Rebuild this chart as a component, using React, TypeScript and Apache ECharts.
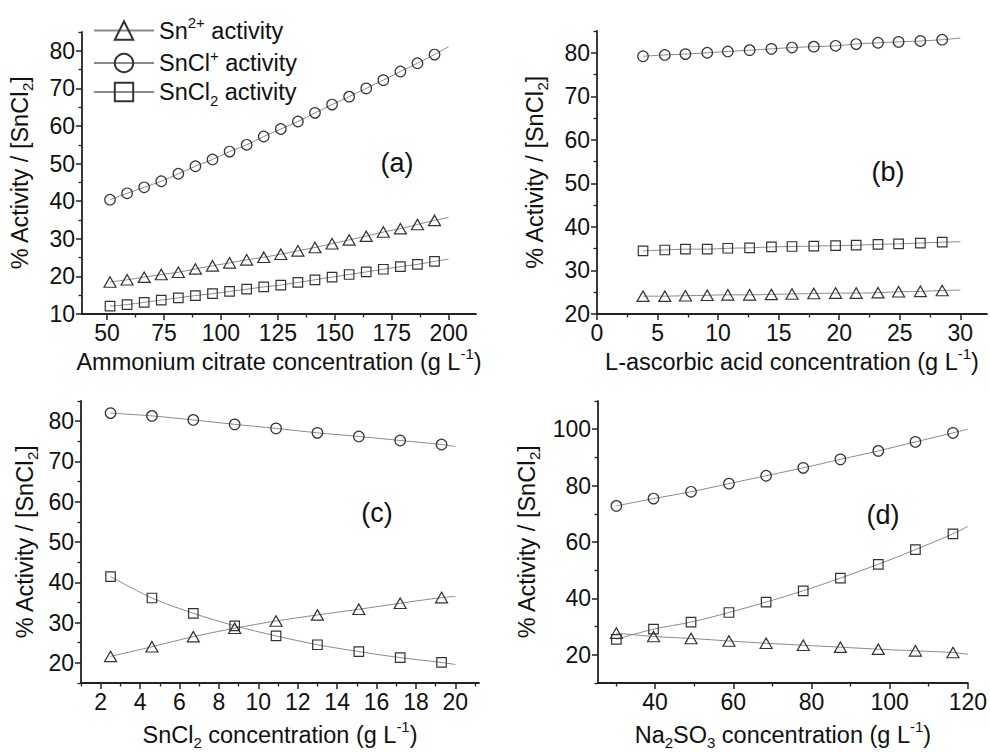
import { useEffect, useRef } from 'react';
import * as echarts from 'echarts';

const FONT = '"Liberation Sans", Arial, sans-serif';
const TXT = '#111';
const AX = '#222';

// ---------- Panel (a): ammonium citrate ----------
const A_X = [51.3, 58.8, 66.3, 73.8, 81.3, 88.8, 96.3, 103.8, 111.3, 118.8, 126.3, 133.8, 141.3, 148.8, 156.3, 163.8, 171.3, 178.8, 186.3, 193.8];
const A_SN2 = [18.5, 19.1, 19.8, 20.5, 21.1, 22.0, 22.8, 23.6, 24.4, 25.1, 25.9, 26.8, 27.7, 28.7, 29.7, 30.7, 31.8, 32.7, 33.8, 34.9];
const A_SNCL = [40.4, 42.1, 43.7, 45.3, 47.3, 49.3, 51.1, 53.2, 55.0, 57.2, 59.2, 61.2, 63.5, 65.7, 67.8, 70.0, 72.2, 74.5, 76.7, 79.0];
const A_SNCL2 = [12.1, 12.5, 13.1, 13.7, 14.3, 14.9, 15.4, 16.0, 16.6, 17.2, 17.7, 18.4, 19.1, 19.8, 20.5, 21.2, 21.9, 22.6, 23.2, 24.0];
const A_END = { x: 200, sn2: 35.7, sncl: 81.1, sncl2: 24.6 };
const A_XTICKS = [50, 75, 100, 125, 150, 175, 200];
const A_XMINOR = [62.5, 87.5, 112.5, 137.5, 162.5, 187.5];
const A_YTICKS = [10, 20, 30, 40, 50, 60, 70, 80];
const A_YMINOR = [15, 25, 35, 45, 55, 65, 75, 85];

// ---------- Panel (b): L-ascorbic acid ----------
const B_X = [3.8, 5.6, 7.3, 9.1, 10.8, 12.6, 14.4, 16.1, 17.9, 19.7, 21.4, 23.2, 24.9, 26.7, 28.5];
const B_SN2 = [24.1, 24.1, 24.2, 24.3, 24.4, 24.4, 24.5, 24.6, 24.7, 24.8, 24.8, 24.9, 25.1, 25.2, 25.4];
const B_SNCL = [79.2, 79.5, 79.7, 80.0, 80.3, 80.6, 80.9, 81.2, 81.4, 81.6, 82.0, 82.3, 82.5, 82.7, 83.0];
const B_SNCL2 = [34.5, 34.7, 34.9, 34.9, 35.1, 35.2, 35.4, 35.5, 35.6, 35.7, 35.8, 36.0, 36.1, 36.3, 36.5];
const B_END = { x: 30, sn2: 25.5, sncl: 83.4, sncl2: 36.6 };
const B_XTICKS = [0, 5, 10, 15, 20, 25, 30];
const B_XMINOR = [2.5, 7.5, 12.5, 17.5, 22.5, 27.5];
const B_YTICKS = [20, 30, 40, 50, 60, 70, 80];
const B_YMINOR = [25, 35, 45, 55, 65, 75, 85];

// ---------- Panel (c): SnCl2 ----------
const C_X = [2.5, 4.6, 6.7, 8.8, 10.9, 13.0, 15.1, 17.2, 19.3];
const C_SN2 = [21.6, 24.0, 26.5, 28.6, 30.4, 31.9, 33.3, 34.8, 36.2];
const C_SNCL = [82.0, 81.3, 80.3, 79.2, 78.2, 77.1, 76.2, 75.2, 74.2];
const C_SNCL2 = [41.4, 36.1, 32.3, 29.2, 26.7, 24.5, 22.8, 21.3, 20.1];
const C_END = { x: 20, sn2: 36.5, sncl: 73.7, sncl2: 19.6 };
const C_XTICKS = [2, 4, 6, 8, 10, 12, 14, 16, 18, 20];
const C_XMINOR = [1, 3, 5, 7, 9, 11, 13, 15, 17, 19, 21];
const C_YTICKS = [20, 30, 40, 50, 60, 70, 80];
const C_YMINOR = [15, 25, 35, 45, 55, 65, 75, 85];

// ---------- Panel (d): Na2SO3 ----------
const D_X = [30.1, 39.6, 49.2, 58.9, 68.4, 77.9, 87.4, 97.1, 106.6, 116.2];
const D_SN2 = [27.7, 26.5, 25.8, 24.9, 24.1, 23.4, 22.7, 22.0, 21.4, 20.8];
const D_SNCL = [72.8, 75.4, 77.8, 80.7, 83.5, 86.3, 89.3, 92.3, 95.5, 98.7];
const D_SNCL2 = [25.5, 29.1, 31.6, 35.0, 38.7, 42.7, 47.2, 52.1, 57.3, 62.9];
const D_END = { x: 120, sn2: 20.2, sncl: 100.0, sncl2: 65.5 };
const D_XTICKS = [40, 60, 80, 100, 120];
const D_XMINOR = [30, 50, 70, 90, 110];
const D_YTICKS = [20, 40, 60, 80, 100];
const D_YMINOR = [10, 30, 50, 70, 90, 110];

const NAMES = ['Sn2+ activity', 'SnCl+ activity', 'SnCl2 activity'];

const rich = {
  m: { fontSize: 23.5, fontFamily: FONT, color: TXT, lineHeight: 31 },
  sub: { fontSize: 15, fontFamily: FONT, color: TXT, lineHeight: 15, verticalAlign: 'bottom' },
  sup: { fontSize: 15, fontFamily: FONT, color: TXT, lineHeight: 15, verticalAlign: 'top' },
};

const Y_NAME = '{m|% Activity / [SnCl}{sub|2}{m|]}';

function series(gi: number, idx: number, xs: number[], ys: number[], endX: number, endY: number) {
  const symbol = ['triangle', 'circle', 'rect'][idx];
  const size = [[12, 10.5], 10.5, 9.5][idx];
  const data: any[] = xs.map((x, i) => [x, ys[i]]);
  data.push({ value: [endX, endY], symbol: 'none' });
  return {
    type: 'line',
    name: NAMES[idx],
    xAxisIndex: gi * 2,
    yAxisIndex: gi * 2,
    data,
    symbol,
    symbolSize: size,
    smooth: 0.3,
    lineStyle: { color: '#8a8a8a', width: 1 },
    itemStyle: { color: 'rgba(255,255,255,0)', borderColor: '#333', borderWidth: 1.2 },
    emphasis: { disabled: true },
    z: 3,
  };
}

function axes(gi: number, min: number, max: number, ticks: number[], minor: number[], name: string, nameGap: number, isX: boolean) {
  const main: any = {
    type: 'value',
    gridIndex: gi,
    min,
    max,
    position: isX ? 'bottom' : 'left',
    axisLine: { show: true, onZero: false, lineStyle: { color: AX, width: 1.8 } },
    axisTick: { show: true, length: 6, customValues: ticks, lineStyle: { color: AX, width: 1.5 } },
    axisLabel: { customValues: ticks, fontSize: 23, fontFamily: FONT, color: TXT, margin: 7 },
    splitLine: { show: false },
    name,
    nameLocation: 'middle',
    nameGap,
    nameTextStyle: { rich },
  };
  const mn: any = {
    type: 'value',
    gridIndex: gi,
    min,
    max,
    position: isX ? 'bottom' : 'left',
    axisLine: { show: false, onZero: false },
    axisTick: { show: true, length: 3.5, customValues: minor, lineStyle: { color: AX, width: 1.3 } },
    axisLabel: { show: false },
    splitLine: { show: false },
  };
  return [main, mn];
}

function panelLabel(text: string, x: number, y: number) {
  return {
    type: 'text',
    x,
    y,
    style: { text, fontSize: 27, fontFamily: FONT, fill: TXT, textAlign: 'center', textVerticalAlign: 'middle' },
  };
}

export default function App() {
  const ref = useRef<HTMLDivElement>(null);
  useEffect(() => {
    if (!ref.current) return;
    const chart = echarts.init(ref.current, undefined, { renderer: 'svg' });
    const grids = [
      { left: 82, top: 32, width: 394, height: 282 },
      { left: 597, top: 31, width: 390, height: 283 },
      { left: 81, top: 401, width: 398, height: 282 },
      { left: 598, top: 401, width: 374, height: 282 },
    ];
    const xAxis = [
      ...axes(0, 39, 212, A_XTICKS, A_XMINOR, '{m|Ammonium citrate concentration (g L}{sup|-1}{m|)}', 32, true),
      ...axes(1, 0, 32.2, B_XTICKS, B_XMINOR, '{m|L-ascorbic acid concentration (g L}{sup|-1}{m|)}', 32, true),
      ...axes(2, 1, 21.2, C_XTICKS, C_XMINOR, '{m|SnCl}{sub|2}{m| concentration (g L}{sup|-1}{m|)}', 36, true),
      ...axes(3, 25.4, 120, D_XTICKS, D_XMINOR, '{m|Na}{sub|2}{m|SO}{sub|3}{m| concentration (g L}{sup|-1}{m|)}', 36, true),
    ];
    const yAxis = [
      ...axes(0, 10, 85, A_YTICKS, A_YMINOR, Y_NAME, 47, false),
      ...axes(1, 20, 85, B_YTICKS, B_YMINOR, Y_NAME, 47, false),
      ...axes(2, 15, 85, C_YTICKS, C_YMINOR, Y_NAME, 41, false),
      ...axes(3, 10, 110, D_YTICKS, D_YMINOR, Y_NAME, 56, false),
    ];
    const legendLabels: Record<string, string> = {
      'Sn2+ activity': '{m|Sn}{sup|2+}{m| activity}',
      'SnCl+ activity': '{m|SnCl}{sup|+}{m| activity}',
      'SnCl2 activity': '{m|SnCl}{sub|2}{m| activity}',
    };
    chart.setOption({
      animation: false,
      backgroundColor: '#fff',
      grid: grids,
      xAxis,
      yAxis,
      legend: {
        data: NAMES,
        orient: 'vertical',
        left: 93,
        top: 15,
        padding: 0,
        itemWidth: 60,
        itemHeight: 23,
        itemGap: 5,
        itemTextGap: 7,
        selectedMode: false,
        formatter: (n: string) => legendLabels[n],
        textStyle: { rich },
      },
      series: [
        series(0, 0, A_X, A_SN2, A_END.x, A_END.sn2),
        series(0, 1, A_X, A_SNCL, A_END.x, A_END.sncl),
        series(0, 2, A_X, A_SNCL2, A_END.x, A_END.sncl2),
        series(1, 0, B_X, B_SN2, B_END.x, B_END.sn2),
        series(1, 1, B_X, B_SNCL, B_END.x, B_END.sncl),
        series(1, 2, B_X, B_SNCL2, B_END.x, B_END.sncl2),
        series(2, 0, C_X, C_SN2, C_END.x, C_END.sn2),
        series(2, 1, C_X, C_SNCL, C_END.x, C_END.sncl),
        series(2, 2, C_X, C_SNCL2, C_END.x, C_END.sncl2),
        series(3, 0, D_X, D_SN2, D_END.x, D_END.sn2),
        series(3, 1, D_X, D_SNCL, D_END.x, D_END.sncl),
        series(3, 2, D_X, D_SNCL2, D_END.x, D_END.sncl2),
      ],
      graphic: [
        panelLabel('(a)', 397, 163),
        panelLabel('(b)', 888, 172),
        panelLabel('(c)', 377, 513),
        panelLabel('(d)', 883, 515),
      ],
    });
    return () => chart.dispose();
  }, []);
  return <div ref={ref} style={{ position: 'fixed', left: 0, top: 0, width: 990, height: 752 }} />;
}
